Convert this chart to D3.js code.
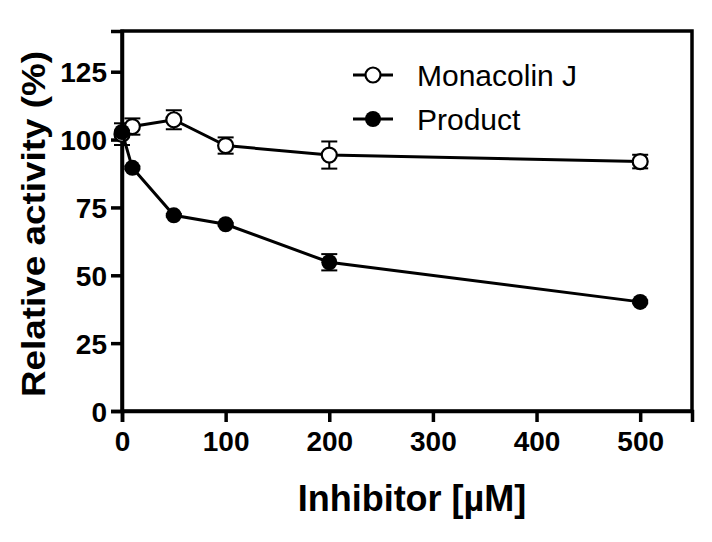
<!DOCTYPE html>
<html><head><meta charset="utf-8">
<script src="https://cdn.jsdelivr.net/npm/d3@7"></script>
<style>body{margin:0;background:#fff}svg{display:block}</style>
</head><body>
<script>
const concentrations = [0, 10, 50, 100, 200, 500];
const monacolinJ = [102, 104.8, 107.3, 97.8, 94.3, 91.9];
const monacolinJErr = [4, 3, 3.5, 3, 5, 2.5];
const product = [102.8, 89.6, 72.1, 68.8, 54.8, 40.2];
const productErr = [0.5, 0.5, 0.5, 0.5, 3, 0.5];
const seriesNames = ["Monacolin J", "Product"];
const xTicks = [0, 100, 200, 300, 400, 500];
const yTicks = [0, 25, 50, 75, 100, 125];
const xTitle = "Inhibitor [µM]";
const yTitle = "Relative activity (%)";

(function () {
const W = 712, H = 542;
const pL = 122, pR = 692, pT = 31, pB = 411;
const svg = d3.select("body").append("svg").attr("width", W).attr("height", H);
const x = d3.scaleLinear().domain([0, 550]).range([pL, pR]);
const y = d3.scaleLinear().domain([0, 140]).range([pB, pT]);
const font = "'Liberation Sans', Arial, sans-serif";

// frame
svg.append("rect").attr("x", pL).attr("y", pT).attr("width", pR - pL).attr("height", pB - pT)
  .attr("fill", "none").attr("stroke", "#000").attr("stroke-width", 3.5);

const xAxis = svg.append("g").attr("transform", `translate(0,${pB})`)
  .call(d3.axisBottom(x).tickValues(xTicks).tickSize(11).tickPadding(9).tickFormat(d3.format("d")));
const yAxis = svg.append("g").attr("transform", `translate(${pL},0)`)
  .call(d3.axisLeft(y).tickValues(yTicks).tickSize(11).tickPadding(4).tickFormat(d3.format("d")));
[xAxis, yAxis].forEach(a => {
  a.select(".domain").attr("stroke", "#000").attr("stroke-width", 3.5);
  a.selectAll(".tick line").attr("stroke", "#000").attr("stroke-width", 3.5);
  a.selectAll(".tick text").attr("fill", "#000").attr("font-family", font)
    .attr("font-weight", "bold").attr("font-size", 28);
});
yAxis.selectAll(".tick text").attr("dy", "0.36em");

// titles
svg.append("text").attr("x", 412).attr("y", 511).attr("text-anchor", "middle")
  .attr("font-family", font).attr("font-weight", "bold").attr("font-size", 36).text(xTitle);
svg.append("text").attr("transform", "translate(45,224) rotate(-90)").attr("text-anchor", "middle")
  .attr("font-family", font).attr("font-weight", "bold").attr("font-size", 34)
  .attr("textLength", 346).attr("lengthAdjust", "spacingAndGlyphs").text(yTitle);

const line = d3.line().x(d => x(d[0])).y(d => y(d[1]));
function drawSeries(vals, errs, filled) {
  const pts = concentrations.map((c, i) => [c, vals[i], errs[i]]);
  svg.append("path").datum(pts).attr("d", line).attr("fill", "none")
    .attr("stroke", "#000").attr("stroke-width", 3);
  const g = svg.append("g");
  pts.forEach(p => {
    const cx = x(p[0]), y1 = y(p[1] + p[2]), y2 = y(p[1] - p[2]);
    g.append("line").attr("x1", cx).attr("x2", cx).attr("y1", y1).attr("y2", y2).attr("stroke", "#000").attr("stroke-width", 2);
    [y1, y2].forEach(yy => g.append("line").attr("x1", cx - 8).attr("x2", cx + 8).attr("y1", yy).attr("y2", yy)
      .attr("stroke", "#000").attr("stroke-width", 2));
  });
  g.selectAll("circle").data(pts).join("circle").attr("cx", d => x(d[0])).attr("cy", d => y(d[1]))
    .attr("r", filled ? 8 : 7.5).attr("fill", filled ? "#000" : "#fff").attr("stroke", "#000").attr("stroke-width", filled ? 0 : 2.2);
}
drawSeries(monacolinJ, monacolinJErr, false);
drawSeries(product, productErr, true);

// legend
const legY = [75, 119];
seriesNames.forEach((name, i) => {
  const g = svg.append("g");
  g.append("line").attr("x1", 353).attr("x2", 393).attr("y1", legY[i]).attr("y2", legY[i]).attr("stroke", "#000").attr("stroke-width", 3);
  g.append("circle").attr("cx", 373).attr("cy", legY[i]).attr("r", i ? 8 : 7.5)
    .attr("fill", i ? "#000" : "#fff").attr("stroke", "#000").attr("stroke-width", i ? 0 : 2.2);
  g.append("text").attr("x", 417).attr("y", legY[i] + 10.5).attr("font-family", font)
    .attr("font-size", 30).attr("fill", "#000").text(name);
});
})();
</script>
</body></html>
